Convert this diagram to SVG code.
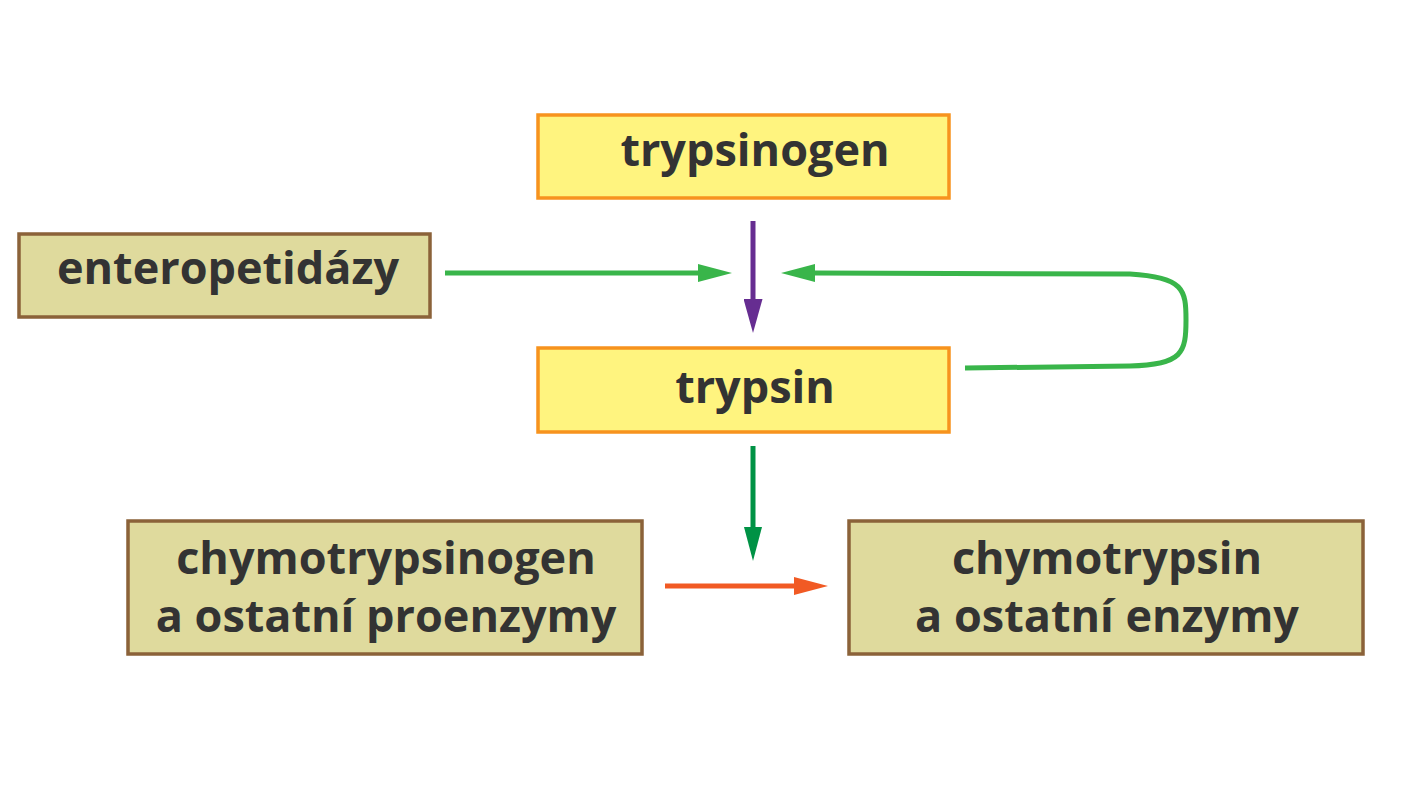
<svg xmlns="http://www.w3.org/2000/svg" width="1428" height="792" viewBox="0 0 1428 792">
<style>
.bg{fill:#ffffff}
.yel{fill:#FFF47F;stroke:#F7931E;stroke-width:3.5}
.tan{fill:#DFDA9D;stroke:#8B6239;stroke-width:3.5}
.lbl{font-family:"Open Sans","Noto Sans",sans-serif;font-weight:700;font-size:45px;fill:#333333;text-anchor:middle}
.ln{fill:none;stroke-width:5}
</style>
<defs>
<marker id="hp" markerUnits="userSpaceOnUse" viewBox="0 -9.5 34 19" markerWidth="34" markerHeight="19" refX="0" refY="0" orient="auto"><path d="M0,-9.5 L34,0 L0,9.5 z" fill="#662D91"/></marker>
<marker id="hg" markerUnits="userSpaceOnUse" viewBox="0 -9 34 18" markerWidth="34" markerHeight="18" refX="0" refY="0" orient="auto"><path d="M0,-9 L34,0 L0,9 z" fill="#39B54A"/></marker>
<marker id="hd" markerUnits="userSpaceOnUse" viewBox="0 -9 34 18" markerWidth="34" markerHeight="18" refX="0" refY="0" orient="auto"><path d="M0,-9 L34,0 L0,9 z" fill="#009245"/></marker>
<marker id="ho" markerUnits="userSpaceOnUse" viewBox="0 -9 34 18" markerWidth="34" markerHeight="18" refX="0" refY="0" orient="auto"><path d="M0,-9 L34,0 L0,9 z" fill="#F15A24"/></marker>
</defs>
<rect class="bg" x="0" y="0" width="1428" height="792"/>
<g id="connectors">
<path class="ln" stroke="#662D91" d="M753,221 L753,299" marker-end="url(#hp)"/>
<path class="ln" stroke="#39B54A" d="M445,273 L698,273" marker-end="url(#hg)"/>
<path class="ln" stroke="#39B54A" d="M965,368 L1130,366 C1183,365 1186,352 1186,320 C1186,290 1184,277 1130,274 L815,273" marker-end="url(#hg)"/>
<path class="ln" stroke="#009245" d="M753,446 L753,527" marker-end="url(#hd)"/>
<path class="ln" stroke="#F15A24" d="M665,586 L794,586" marker-end="url(#ho)"/>
</g>
<g id="trypsinogen">
<rect class="yel" x="538" y="115" width="411" height="83"/>
<text class="lbl" x="755" y="166">trypsinogen</text>
</g>
<g id="enteropetidazy">
<rect class="tan" x="19" y="234" width="411" height="83"/>
<text class="lbl" x="228" y="284">enteropetidázy</text>
</g>
<g id="trypsin">
<rect class="yel" x="538" y="348" width="411" height="84"/>
<text class="lbl" x="755" y="403">trypsin</text>
</g>
<g id="chymotrypsinogen">
<rect class="tan" x="128" y="521" width="514" height="133"/>
<text class="lbl" x="386" y="574">chymotrypsinogen</text>
<text class="lbl" x="386" y="632">a ostatní proenzymy</text>
</g>
<g id="chymotrypsin">
<rect class="tan" x="849" y="521" width="514" height="133"/>
<text class="lbl" x="1107" y="574">chymotrypsin</text>
<text class="lbl" x="1107" y="632">a ostatní enzymy</text>
</g>
</svg>
